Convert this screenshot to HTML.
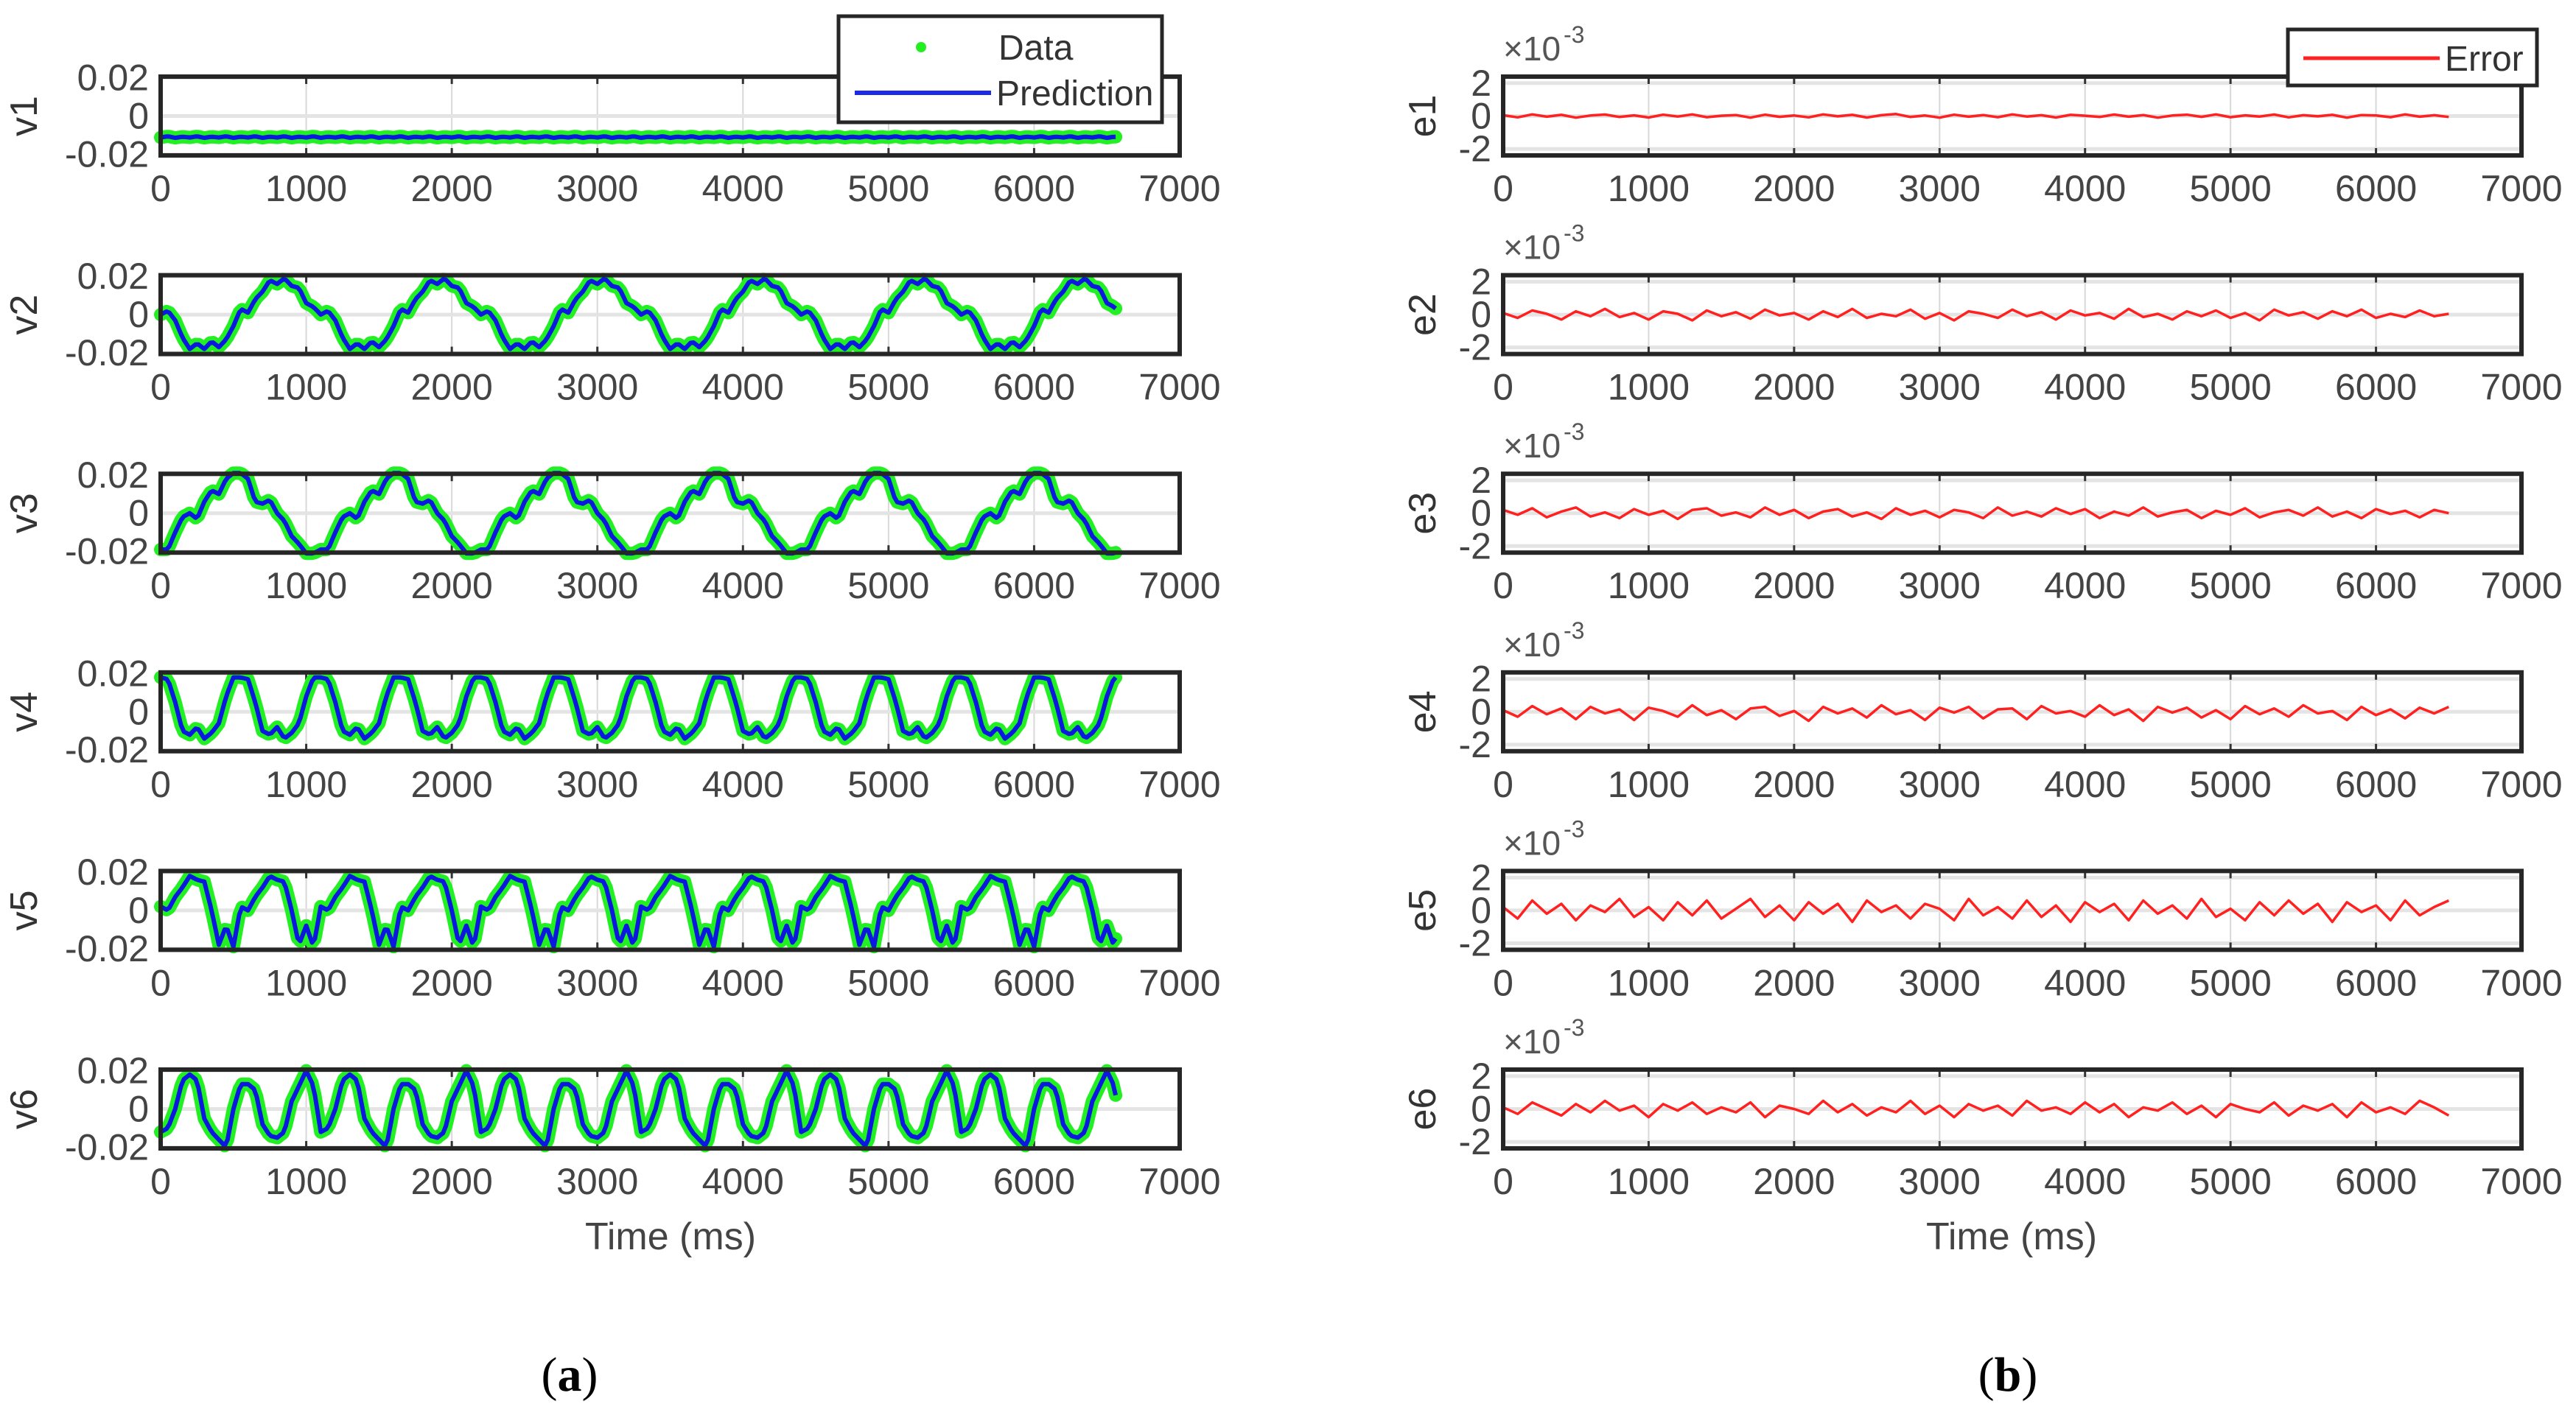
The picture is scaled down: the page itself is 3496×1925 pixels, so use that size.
<!DOCTYPE html>
<html><head><meta charset="utf-8"><style>
html,body{margin:0;padding:0;background:#fff;}
svg{display:block;font-family:"Liberation Sans",Arial,sans-serif;}
</style></head><body>
<svg id="fig" width="3496" height="1925" viewBox="0 0 3496 1925" xmlns="http://www.w3.org/2000/svg">
<g id="root"></g>
</svg>
<script>
// ---- data ----
const xTicks = [0,1000,2000,3000,4000,5000,6000,7000];
const vTickLabels = ["0.02","0","-0.02"];
const vTickValues = [0.02,0,-0.02];
const eTickLabels = ["2","0","-2"];
const eTickValues = [2,0,-2];
const seriesNames = ["v1","v2","v3","v4","v5","v6"];
const errorNames = ["e1","e2","e3","e4","e5","e6"];
const tEnd = 6560;
// one-period shapes, sampled every 50 ms
const v1Period = 200;
const v1Shape = [-0.0112,-0.0106,-0.0114,-0.0108];
const v2Period = 1100;
const v2Shape = [0,0.002,-0.003,-0.012,-0.018,-0.015,-0.018,-0.014,-0.017,-0.013,-0.006,0.003,0.001,0.008,0.012,0.018,0.016,0.019,0.015,0.014,0.006,0.004];
const v3Period = 1100;
const v3Shape = [-0.019,-0.019,-0.010,-0.002,0.000,-0.003,0.006,0.012,0.010,0.018,0.021,0.021,0.018,0.006,0.005,0.007,0.000,-0.004,-0.012,-0.016,-0.021,-0.021];
const v4Period = 550;
const v4Shape = [0.018,0.017,0.005,-0.010,-0.012,-0.008,-0.014,-0.011,-0.006,0.008,0.018];
const v5Period = 550;
const v5Shape = [0.002,0.000,0.007,0.012,0.018,0.016,0.015,0.000,-0.018,-0.008,-0.019];
const v6Period = 1100;
const v6Shape = [-0.012,-0.010,0.000,0.015,0.018,0.015,-0.005,-0.012,-0.016,-0.020,0.000,0.013,0.013,0.010,-0.008,-0.014,-0.015,-0.012,0.004,0.012,0.020,0.012];
// errors (x1e-3), every 100 ms
const e1Values = [0.05,-0.08,0.1,-0.04,0.07,-0.1,0.03,0.09,-0.06,0.04,-0.09,0.08,-0.03,0.1,-0.07,0.02,0.06,-0.1,0.08,-0.05,0.03,-0.08,0.1,-0.02,0.07,-0.09,0.05,0.12,-0.06,0.03,-0.1,0.08,-0.04,0.06,-0.07,0.1,-0.03,0.05,-0.09,0.07,0.02,-0.06,0.09,-0.04,0.06,-0.1,0.03,0.08,-0.05,0.1,-0.07,0.04,-0.03,0.09,-0.08,0.05,-0.02,0.07,-0.1,0.06,0.03,-0.07,0.1,-0.04,0.05,-0.06];
const e2Values = [0.1,-0.2,0.25,0.05,-0.3,0.2,-0.1,0.35,-0.15,0.1,-0.3,0.2,0.05,-0.35,0.25,-0.1,0.15,-0.25,0.3,-0.05,0.1,-0.3,0.2,-0.15,0.35,-0.2,0.05,-0.1,0.3,-0.25,0.1,-0.35,0.2,0.05,-0.2,0.3,-0.1,0.15,-0.3,0.25,-0.05,0.1,-0.25,0.35,-0.15,0.05,-0.3,0.2,-0.1,0.25,-0.2,0.1,-0.35,0.3,-0.05,0.15,-0.25,0.2,-0.1,0.3,-0.2,0.05,-0.15,0.25,-0.1,0.05];
const e3Values = [0.2,-0.1,0.3,-0.25,0.1,0.35,-0.2,0.05,-0.3,0.25,-0.1,0.15,-0.35,0.2,0.3,-0.15,0.05,-0.25,0.35,-0.1,0.2,-0.3,0.1,0.25,-0.2,0.05,-0.35,0.3,-0.1,0.15,-0.25,0.2,0.05,-0.3,0.35,-0.15,0.1,-0.2,0.3,-0.05,0.25,-0.3,0.1,-0.15,0.35,-0.2,0.05,0.2,-0.3,0.15,-0.1,0.3,-0.25,0.05,0.2,-0.15,0.35,-0.2,0.1,-0.3,0.25,-0.05,0.15,-0.25,0.2,0.0];
const e4Values = [0.1,-0.3,0.35,-0.15,0.2,-0.45,0.3,-0.1,0.15,-0.5,0.25,0.05,-0.3,0.4,-0.2,0.1,-0.45,0.2,0.3,-0.25,0.05,-0.55,0.3,-0.1,0.2,-0.35,0.4,-0.15,0.1,-0.5,0.25,-0.05,0.3,-0.4,0.15,0.2,-0.45,0.35,-0.1,0.05,-0.3,0.4,-0.2,0.15,-0.55,0.3,-0.05,0.25,-0.35,0.1,-0.45,0.35,-0.15,0.2,-0.3,0.4,-0.1,0.05,-0.5,0.3,-0.2,0.15,-0.4,0.25,-0.1,0.3];
const e5Values = [0.2,-0.5,0.6,-0.2,0.4,-0.6,0.3,-0.1,0.7,-0.4,0.2,-0.6,0.5,-0.3,0.6,-0.5,0.1,0.7,-0.4,0.3,-0.6,0.5,-0.2,0.4,-0.7,0.6,-0.1,0.3,-0.5,0.4,0.1,-0.6,0.7,-0.3,0.2,-0.5,0.6,-0.4,0.3,-0.7,0.5,-0.1,0.4,-0.6,0.6,-0.2,0.3,-0.5,0.7,-0.4,0.1,-0.6,0.5,-0.3,0.6,-0.2,0.4,-0.7,0.5,-0.1,0.3,-0.6,0.6,-0.3,0.2,0.6];
const e6Values = [0.1,-0.3,0.4,0.0,-0.4,0.3,-0.2,0.5,-0.1,0.2,-0.5,0.3,-0.1,0.4,-0.3,0.1,-0.2,0.4,-0.5,0.2,0.0,-0.3,0.5,-0.2,0.3,-0.4,0.1,-0.2,0.5,-0.3,0.2,-0.5,0.3,-0.1,0.2,-0.4,0.5,-0.1,0.1,-0.3,0.4,-0.2,0.3,-0.5,0.1,-0.1,0.4,-0.3,0.2,-0.5,0.3,0.0,-0.2,0.4,-0.4,0.2,-0.1,0.3,-0.5,0.4,-0.2,0.1,-0.3,0.5,0.1,-0.4];
</script>
<script>
const NS = "http://www.w3.org/2000/svg";
const root = document.getElementById("root");
function mk(tag, attrs, parent){
  const el = document.createElementNS(NS, tag);
  for (const k in attrs) el.setAttribute(k, attrs[k]);
  (parent||root).appendChild(el);
  return el;
}
const rowTop0 = 104, rowStep = 269.6, boxH = 107;
const leftX0 = 218, leftX1 = 1601;
const rightX0 = 2040, rightX1 = 3422;
const vLim = 0.0206, eLim = 2.4;

function sampleShape(shape, period, t){
  const step = period / shape.length;
  const p = ((t % period) + period) % period;
  const i = Math.floor(p / step), f = (p - i*step)/step;
  const a = shape[i], b = shape[(i+1) % shape.length];
  return a + (b-a)*f;
}
const shapes = [[v1Shape,v1Period],[v2Shape,v2Period],[v3Shape,v3Period],[v4Shape,v4Period],[v5Shape,v5Period],[v6Shape,v6Period]];
const errs = [e1Values,e2Values,e3Values,e4Values,e5Values,e6Values];

function drawAxes(g, x0, x1, top, lim, tickVals, tickLabs, ylabel, ylabelX){
  const xs = v => x0 + (v/7000)*(x1-x0);
  const ys = v => top + boxH/2 - (v/lim)*(boxH/2);
  xTicks.forEach(t => {
    if (t===0 || t===7000) return;
    const gl = mk("line",{x1:xs(t),x2:xs(t),y1:top,y2:top+boxH,stroke:"#d8d8d8","stroke-width":2},g);
    
    
  });
  tickVals.forEach((v,i) => {
    const gl = mk("line",{x1:x0,x2:x1,y1:ys(v),y2:ys(v),stroke:"#e4e4e4","stroke-width":5},g);
    
    
    const tl = mk("text",{x:x0-16,y:ys(v)+17,"text-anchor":"end","font-size":50,fill:"#444"},g);
    tl.textContent = tickLabs[i];
    
    
  });
  xTicks.forEach(t => {
    const tl = mk("text",{x:xs(t),y:top+boxH+62,"text-anchor":"middle","font-size":50,fill:"#444"},g);
    tl.textContent = t;
    
    
    const tk = mk("line",{x1:xs(t),x2:xs(t),y1:top,y2:top+10,stroke:"#333","stroke-width":3},g);
    
    
    const tk2 = mk("line",{x1:xs(t),x2:xs(t),y1:top+boxH,y2:top+boxH-10,stroke:"#333","stroke-width":3},g);
    
    
  });
  const yl = mk("text",{x:ylabelX,y:top+boxH/2,"text-anchor":"middle","font-size":52,fill:"#333",transform:`rotate(-90 ${ylabelX} ${top+boxH/2})`},g);
  yl.textContent = ylabel;
  
  
  return {xs, ys};
}
function drawBox(g,x0,x1,top){
  const b = mk("rect",{x:x0,y:top,width:x1-x0,height:boxH,fill:"none",stroke:"#262626","stroke-width":6},g);
  
  
}

for (let r=0;r<6;r++){
  const top = rowTop0 + rowStep*r;
  const gL = mk("g",{});
  
  
  const axL = drawAxes(gL, leftX0, leftX1, top, vLim, vTickValues, vTickLabels, seriesNames[r], 50);
  let pts = [];
  for (let t=0;t<=tEnd;t+=20){
    pts.push(axL.xs(t).toFixed(1)+","+axL.ys(sampleShape(shapes[r][0],shapes[r][1],t)).toFixed(1));
  }
  const dl = mk("polyline",{points:pts.join(" "),fill:"none",stroke:"#22f022","stroke-width":18,"stroke-linejoin":"round","stroke-linecap":"round"},gL);
  
  
  const pl = mk("polyline",{points:pts.join(" "),fill:"none",stroke:"#0a18e0","stroke-width":6,"stroke-linejoin":"round"},gL);
  
  
  drawBox(gL, leftX0, leftX1, top);

  const gR = mk("g",{});
  
  
  const axR = drawAxes(gR, rightX0, rightX1, top, eLim, eTickValues, eTickLabels, errorNames[r], 1948);
  const ev = errs[r];
  let ep = ev.map((v,i)=> axR.xs(Math.min(i*100,tEnd)).toFixed(1)+","+axR.ys(v).toFixed(1));
  const el = mk("polyline",{points:ep.join(" "),fill:"none",stroke:"#ff2020","stroke-width":3.5,"stroke-linejoin":"round"},gR);
  
  
  drawBox(gR, rightX0, rightX1, top);
  const ex = mk("text",{x:rightX0,y:top-22,"font-size":46,fill:"#555"},gR);
  ex.textContent = "×10";
  
  
  const es = mk("text",{x:rightX0+82,y:top-46,"font-size":32,fill:"#555"},gR);
  es.textContent = "-3";
  
  
}
[[910,"Time (ms)"],[2730,"Time (ms)"]].forEach(([x,s])=>{
  const t = mk("text",{x:x,y:1696,"text-anchor":"middle","font-size":52,fill:"#444"});
  t.textContent = s;
  
  
});
[[773,"a"],[2725,"b"]].forEach(([x,s])=>{
  const t = mk("text",{x:x,y:1888,"text-anchor":"middle","font-size":66,fill:"#000","font-family":"Liberation Serif, serif"});
  t.innerHTML = '(<tspan font-weight="bold">'+s+'</tspan>)';
  
  
});
const lg = mk("g",{});


const lr = mk("rect",{x:1138,y:22,width:439,height:144,fill:"#fff",stroke:"#262626","stroke-width":5},lg);


const ld = mk("circle",{cx:1250,cy:64,r:7,fill:"#22ee22"},lg);


const lt1 = mk("text",{x:1355,y:81,"font-size":48,fill:"#333"},lg);
lt1.textContent = "Data";


const ll = mk("line",{x1:1160,x2:1345,y1:126,y2:126,stroke:"#1a2ae8","stroke-width":6},lg);


const lt2 = mk("text",{x:1352,y:143,"font-size":48,fill:"#333"},lg);
lt2.textContent = "Prediction";


const rg = mk("g",{});


const rr = mk("rect",{x:3105,y:40,width:338,height:76,fill:"#fff",stroke:"#262626","stroke-width":5},rg);


const rl = mk("line",{x1:3126,x2:3311,y1:79,y2:79,stroke:"#ff2020","stroke-width":5},rg);


const rt = mk("text",{x:3318,y:96,"font-size":48,fill:"#333"},rg);
rt.textContent = "Error";


</script>
</body></html>
